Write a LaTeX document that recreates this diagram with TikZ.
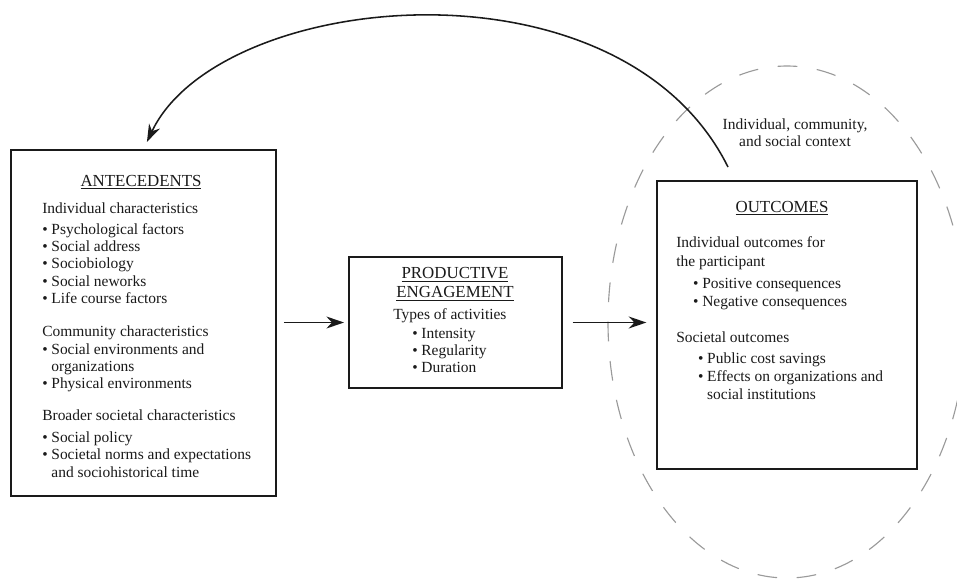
\documentclass[tikz,border=0pt]{standalone}
\usepackage{fontspec}
\setmainfont{Liberation Serif}
\usetikzlibrary{positioning, arrows.meta, calc}
\definecolor{inkblack}{HTML}{1A1A1A}
\definecolor{contextgray}{HTML}{9A9A9A}
\newcommand{\bul}{\makebox[6.5pt][l]{\textbullet}}
\newcommand{\bulgap}{\hspace*{6.5pt}}

\begin{document}
\begin{tikzpicture}[
    x=0.025cm, y=-0.025cm,
    font=\fontsize{11}{12.3}\selectfont,
    box/.style={rectangle, draw=inkblack, line width=1.1pt, fill=white, inner sep=0pt},
    heading/.style={font=\fontsize{12}{13}\selectfont, inner sep=0pt, text=inkblack},
    body/.style={align=left, inner sep=0pt, text=inkblack, anchor=north west},
    flowarrow/.style={inkblack, line width=1.1pt, -{Stealth[length=12.5pt, width=8.5pt, inset=4pt]}},
    context/.style={draw=contextgray, line width=0.8pt, dash pattern=on 14pt off 14pt}
]
\useasboundingbox (0,0) rectangle (957,579);
\clip (0,0) rectangle (957,579);

% ==================== CONTEXT ====================
\draw[context] (787,322) ellipse [x radius=179, y radius=256];
\node[align=center, anchor=north, inner sep=0pt, text=inkblack] (context_label) at (795,118.5) {Individual, community,\\and social context};

% ==================== BOXES ====================
\node[box, minimum width=6.625cm, minimum height=8.65cm] (antecedents) at (143.5,323) {};
\node[box, minimum width=5.325cm, minimum height=3.275cm] (engagement) at (455.5,322.5) {};
\node[box, minimum width=6.5cm, minimum height=7.2cm] (outcomes) at (787,325) {};

% ==================== ANTECEDENTS ====================
\node[heading, anchor=base] (antec_title) at (141,186) {\underline{ANTECEDENTS}};
\node[body] (antec_list) at (42,202.5) {Individual characteristics\\[2.5pt]
    \bul Psychological factors\\
    \bul Social address\\
    \bul Sociobiology\\
    \bul Social neworks\\
    \bul Life course factors\\[11pt]
    Community characteristics\\[0.5pt]
    \bul Social environments and\\
    \bulgap organizations\\
    \bul Physical environments\\[10.5pt]
    Broader societal characteristics\\[3pt]
    \bul Social policy\\
    \bul Societal norms and expectations\\
    \bulgap and sociohistorical time};

% ==================== PRODUCTIVE ENGAGEMENT ====================
\node[heading, align=center, anchor=north] (engage_title) at (455,267.5) {\underline{PRODUCTIVE}\\[0.5pt]\underline{ENGAGEMENT}};
\node[body] (engage_list) at (393,308.5) {Types of activities\\[1.2pt]
    \hspace*{13.5pt}\bul Intensity\\
    \hspace*{13.5pt}\bul Regularity\\[-0.8pt]
    \hspace*{13.5pt}\bul Duration};

% ==================== OUTCOMES ====================
\node[heading, anchor=base] (outc_title) at (782,212) {\underline{OUTCOMES}};
\node[body] (outc_list) at (676,236.5) {Individual outcomes for\\[1.2pt]
    the participant\\[3.3pt]
    \hspace*{12pt}\bul Positive consequences\\[0.5pt]
    \hspace*{12pt}\bul Negative consequences\\[13pt]
    Societal outcomes\\[2.6pt]
    \hspace*{15.5pt}\bul Public cost savings\\[0.5pt]
    \hspace*{15.5pt}\bul Effects on organizations and\\[0.5pt]
    \hspace*{15.5pt}\bulgap social institutions};

% ==================== ARROWS ====================
\draw[flowarrow, shorten <=5pt, shorten >=3pt] (antecedents.east |- engagement.west) -- (engagement.west);
\draw[flowarrow, shorten <=7pt, shorten >=7pt] (engagement.east) -- (engagement.east -| outcomes.west);

% feedback loop
\coordinate (loop_start) at (728,167);
\draw[flowarrow, shorten >=5.7pt] (loop_start) .. controls (620,-50) and (219,-10) .. (antecedents.north);

\end{tikzpicture}
\end{document}
